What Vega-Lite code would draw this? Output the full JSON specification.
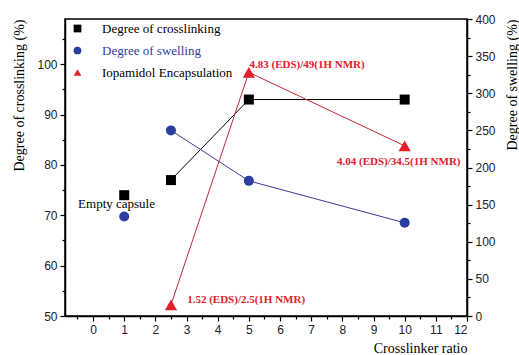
{
  "$schema": "https://vega.github.io/schema/vega-lite/v6.json",
  "width": 402,
  "height": 297,
  "autosize": "none",
  "padding": {"left": 65, "top": 19, "right": 52, "bottom": 39},
  "background": "white",
  "config": {
    "view": {"stroke": "black", "strokeWidth": 1.5},
    "axis": {
      "domainColor": "black", "domainWidth": 1.5,
      "tickColor": "black", "tickWidth": 1.2, "tickSize": 5,
      "labelFont": "Liberation Sans", "labelFontSize": 12, "labelColor": "#222", "labelOverlap": false,
      "titleFont": "Liberation Serif", "titleFontSize": 14, "titleFontWeight": "normal", "titleColor": "black",
      "grid": false
    },
    "legend": {
      "orient": "none", "legendX": 6, "legendY": 3, "padding": 0,
      "labelFont": "Liberation Serif", "labelFontSize": 13, "symbolSize": 60, "rowPadding": 8, "labelOffset": 18,
      "symbolStrokeWidth": 0
    }
  },
  "datasets": {
    "pts": [
      {"ratio": 1, "value": 74, "series": "Degree of crosslinking", "inLine": false},
      {"ratio": 2.5, "value": 77, "series": "Degree of crosslinking", "inLine": true},
      {"ratio": 5, "value": 93, "series": "Degree of crosslinking", "inLine": true},
      {"ratio": 10, "value": 93, "series": "Degree of crosslinking", "inLine": true},
      {"ratio": 2.5, "value": 52.2, "series": "Iopamidol Encapsulation", "inLine": true},
      {"ratio": 5, "value": 98.4, "series": "Iopamidol Encapsulation", "inLine": true},
      {"ratio": 10, "value": 83.8, "series": "Iopamidol Encapsulation", "inLine": true}
    ],
    "swell": [
      {"ratio": 1, "value": 134, "series": "Degree of swelling", "inLine": false},
      {"ratio": 2.5, "value": 250, "series": "Degree of swelling", "inLine": true},
      {"ratio": 5, "value": 182, "series": "Degree of swelling", "inLine": true},
      {"ratio": 10, "value": 125.5, "series": "Degree of swelling", "inLine": true}
    ],
    "notes": [
      {"ratio": 5.02, "value": 99.8, "label": "4.83 (EDS)/49(1H NMR)"},
      {"ratio": 7.83, "value": 80.5, "label": "4.04 (EDS)/34.5(1H NMR)"},
      {"ratio": 3.02, "value": 53.2, "label": "1.52 (EDS)/2.5(1H NMR)"}
    ],
    "empty": [
      {"ratio": -0.48, "value": 72.2, "label": "Empty capsule"}
    ]
  },
  "encoding": {
    "x": {
      "field": "ratio", "type": "quantitative",
      "scale": {"domain": [-0.9, 12], "nice": false, "zero": false},
      "axis": {
        "values": [-0.5, 0, 0.5, 1, 1.5, 2, 2.5, 3, 3.5, 4, 4.5, 5, 5.5, 6, 6.5, 7, 7.5, 8, 8.5, 9, 9.5, 10, 10.5, 11, 11.5, 12],
        "labelExpr": "datum.value % 1 === 0 ? format(datum.value, 'd') : ''",
        "tickSize": {"expr": "datum.value % 1 === 0 ? 5 : 3"},
        "labelPadding": 3,
        "title": "Crosslinker ratio", "titleAnchor": "end", "titlePadding": 6
      }
    }
  },
  "layer": [
    {
      "data": {"name": "pts"},
      "encoding": {
        "y": {
          "field": "value", "type": "quantitative",
          "scale": {"domain": [50, 109], "nice": false, "zero": false},
          "axis": {
            "values": [50, 55, 60, 65, 70, 75, 80, 85, 90, 95, 100, 105],
            "labelExpr": "datum.value % 10 === 0 ? format(datum.value, 'd') : ''",
            "tickSize": {"expr": "datum.value % 10 === 0 ? 5 : 3"},
            "labelPadding": 3,
            "title": "Degree of crosslinking (%)", "titleAnchor": "end", "titlePadding": 10
          }
        }
      },
      "layer": [
        {
          "transform": [{"filter": "datum.inLine"}],
          "mark": {"type": "line", "strokeWidth": 1},
          "encoding": {
            "detail": {"field": "series"},
            "color": {"condition": {"test": "datum.series === 'Iopamidol Encapsulation'", "value": "#c0282d"}, "value": "black"}
          }
        },
        {
          "mark": {"type": "point", "filled": true, "opacity": 1},
          "encoding": {
            "shape": {"field": "series", "type": "nominal",
              "scale": {"domain": ["Degree of crosslinking", "Degree of swelling", "Iopamidol Encapsulation"], "range": ["square", "circle", "triangle-up"]},
              "legend": {"title": null, "labelColor": {"expr": "datum.value === 'Degree of swelling' ? '#2b3ea0' : 'black'"}}},
            "color": {"field": "series", "type": "nominal",
              "scale": {"domain": ["Degree of crosslinking", "Degree of swelling", "Iopamidol Encapsulation"], "range": ["black", "#2b3ea0", "#e3202a"]},
              "legend": {"title": null, "labelColor": {"expr": "datum.value === 'Degree of swelling' ? '#2b3ea0' : 'black'"}}},
            "size": {"condition": {"test": "datum.series === 'Iopamidol Encapsulation'", "value": 150}, "value": 100}
          }
        },
        {
          "data": {"name": "notes"},
          "mark": {"type": "text", "align": "left", "baseline": "middle", "font": "Liberation Serif", "fontSize": 11, "fontWeight": "bold", "color": "#e3202a"},
          "encoding": {"text": {"field": "label"}}
        },
        {
          "data": {"name": "empty"},
          "mark": {"type": "text", "align": "left", "baseline": "middle", "font": "Liberation Serif", "fontSize": 13, "color": "black"},
          "encoding": {"text": {"field": "label"}}
        }
      ]
    },
    {
      "data": {"name": "swell"},
      "encoding": {
        "y": {
          "field": "value", "type": "quantitative",
          "scale": {"domain": [0, 400], "nice": false, "zero": false},
          "axis": {
            "orient": "right",
            "values": [0, 25, 50, 75, 100, 125, 150, 175, 200, 225, 250, 275, 300, 325, 350, 375, 400],
            "labelExpr": "datum.value % 50 === 0 ? format(datum.value, 'd') : ''",
            "tickSize": {"expr": "datum.value % 50 === 0 ? 5 : 3"},
            "labelPadding": 3,
            "title": "Degree of swelling (%)", "titleAnchor": "end", "titleAngle": -90, "titlePadding": 24
          }
        }
      },
      "layer": [
        {
          "transform": [{"filter": "datum.inLine"}],
          "mark": {"type": "line", "strokeWidth": 1, "color": "#3a3a9a"},
          "encoding": {}
        },
        {
          "mark": {"type": "point", "filled": true, "opacity": 1, "size": 100},
          "encoding": {
            "shape": {"field": "series", "type": "nominal",
              "legend": {"title": null, "labelColor": {"expr": "datum.value === 'Degree of swelling' ? '#2b3ea0' : 'black'"}}},
            "color": {"field": "series", "type": "nominal",
              "legend": {"title": null, "labelColor": {"expr": "datum.value === 'Degree of swelling' ? '#2b3ea0' : 'black'"}}}
          }
        }
      ]
    }
  ],
  "resolve": {"scale": {"y": "independent"}}
}
